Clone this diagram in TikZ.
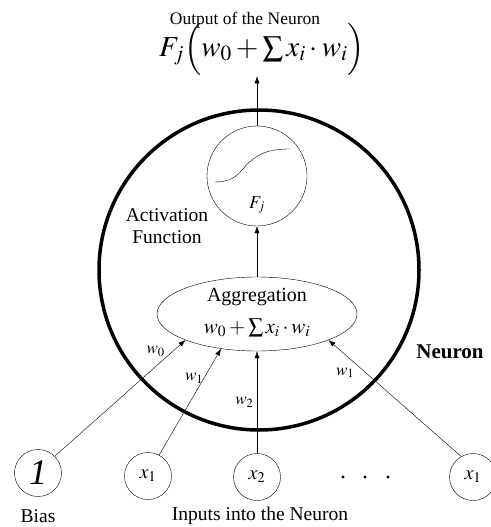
\documentclass[tikz,border=0pt]{standalone}
\usepackage{amsmath}
\usepackage{mathptmx}
\usepackage[no-math]{fontspec}
\setmainfont{Liberation Serif}
\usetikzlibrary{arrows.meta,shapes.geometric}
\newcommand{\fs}[1]{\fontsize{#1}{#1}\selectfont}

\begin{document}
\begin{tikzpicture}[x=1pt,y=-1pt,
  unit/.style={circle,draw,thin,inner sep=0pt,minimum size=47pt},
  txt/.style={font=\fs{19.5}},
  arr/.style={-{Latex[length=7pt,width=5pt]}},
  wlab/.style={font=\fs{17}}]
\useasboundingbox (0,0) rectangle (490,527);
% neuron
\node[circle,draw,line width=3.5pt,minimum size=320pt,inner sep=0pt] (neuron) at (259,270) {};
\node[font=\bfseries\fs{21}] (neulab) at (450,352) {Neuron};
% activation function
\node[circle,draw,thin,minimum size=100pt,inner sep=0pt] (act) at (257,176) {};
\draw (215,182) .. controls (240,182) and (242,166) .. (252,160)
  .. controls (262,152) and (272,149) .. (290,149);
\node[font=\fs{18}] (fj) at (257,205) {$F_j$};
\node[align=center,font=\fontsize{19.5}{22}\selectfont] (actlab) at (167,226) {Activation\\Function};
% aggregation
\node[ellipse,draw,thin,minimum width=200pt,minimum height=74pt,inner sep=0pt] (agg) at (257,314) {};
\node[font=\fs{20}] (agglab) at (257,297) {Aggregation};
\node[font=\fs{21}] (aggsum) at (257,328) {$w_0+\sum x_i\cdot w_i$};
\draw[arr] (agg.north) -- (act.south);
% output
\node[font=\fs{29},inner sep=1pt] (out) at (262,49) {$F_j\Big(w_0+\sum x_i\cdot w_i\Big)$};
\node[font=\fs{17.5},inner sep=1pt] (outlab) at (245,20) {Output of the Neuron};
\draw[arr] (act.north) -- (act.north |- out.south);
% inputs
\node[unit,font=\fs{36}\itshape] (bias) at (38,473) {1};
\node[unit,font=\fs{20}] (xa) at (148,476) {$x_1$};
\node[unit,font=\fs{20}] (xb) at (257,477) {$x_2$};
\node[unit,font=\fs{20}] (xn) at (473,477) {$x_1$};
\foreach \x in {343,365,388} { \fill (\x,477) circle (1.6pt); }
\node[txt] (biaslab) at (38,516) {Bias};
\node[txt] (inlab) at (260,516) {Inputs into the Neuron};
% weights
\draw[arr] (bias.45) -- node[wlab,pos=0.85,above left,inner sep=1pt] {$w_0$} (agg.200);
\draw[arr] (xa.62) -- node[wlab,pos=0.72,left,xshift=3pt] {$w_1$} (agg.224);
\draw[arr] (xb.north) -- node[wlab,pos=0.5,left] {$w_2$} (agg.south);
\draw[arr] (xn.120) -- node[wlab,pos=0.72,left,xshift=-8pt] {$w_1$} (agg.340);
\end{tikzpicture}
\end{document}
